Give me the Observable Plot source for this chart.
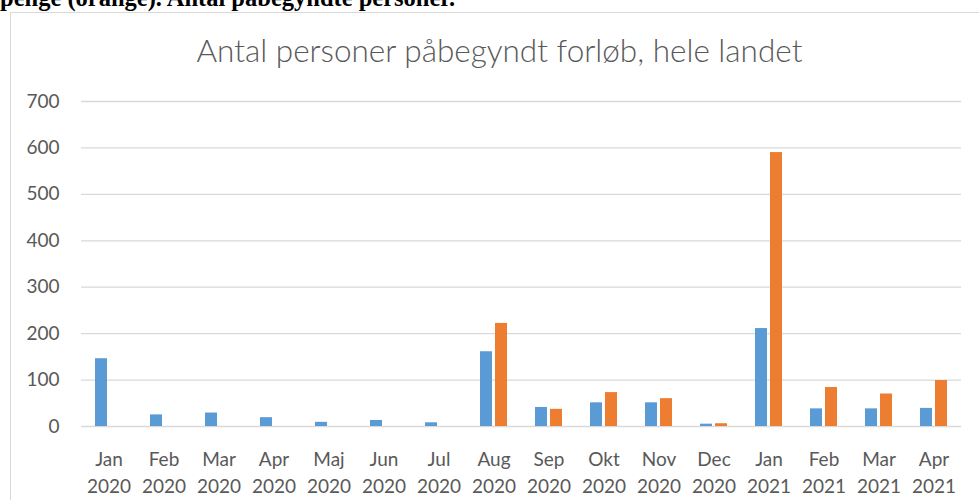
<!DOCTYPE html>
<html><head><meta charset="utf-8">
<script src="https://cdn.jsdelivr.net/npm/d3@7"></script>
<script src="https://cdn.jsdelivr.net/npm/@observablehq/plot@0.6"></script>
<style>
html,body{margin:0;padding:0;background:#fff;}
body{width:979px;height:500px;overflow:hidden;position:relative;}
#caption{position:absolute;left:0;top:-14.5px;font:bold 24.5px/24.5px "Liberation Serif",serif;white-space:nowrap;color:#000;}
#box{position:absolute;left:10px;top:12px;width:1000px;height:600px;border:1px solid #d9d9d9;box-sizing:border-box;}
#title{position:absolute;left:0;top:32px;width:999px;text-align:center;font:300 31.5px/36px Lato,sans-serif;color:#595959;white-space:nowrap;}
#chart{position:absolute;left:0;top:75px;}
</style>
</head><body>
<div id="caption">penge (orange). Antal påbegyndte personer.</div>
<div id="box"></div>
<div id="title">Antal personer påbegyndt forløb, hele landet</div>
<div id="chart"></div>
<script>
const months = ["Jan 2020","Feb 2020","Mar 2020","Apr 2020","Maj 2020","Jun 2020","Jul 2020","Aug 2020","Sep 2020","Okt 2020","Nov 2020","Dec 2020","Jan 2021","Feb 2021","Mar 2021","Apr 2021"];
const seriesNames = ["Blå", "Orange"];
const blueValues = [146, 25, 29, 19, 9, 13, 8, 161, 41, 51, 51, 5, 211, 38, 38, 39];
const orangeValues = [null, null, null, null, null, null, null, 222, 37, 73, 60, 6, 590, 84, 70, 99];
const yTicks = [0, 100, 200, 300, 400, 500, 600, 700];
const colors = ["#5B9BD5", "#ED7D31"];

const data = [];
months.forEach((m, i) => {
  if (blueValues[i] != null) data.push({month: m, series: seriesNames[0], value: blueValues[i]});
  if (orangeValues[i] != null) data.push({month: m, series: seriesNames[1], value: orangeValues[i]});
});

const chart = Plot.plot({
  width: 979,
  height: 425,
  marginLeft: 78,
  marginRight: 16,
  marginTop: 26,
  marginBottom: 74,
  style: {fontFamily: "Lato, sans-serif", color: "#595959", background: "transparent"},
  fx: {domain: months, paddingInner: 0, paddingOuter: 0, label: null, axis: null},
  x: {domain: seriesNames, paddingInner: 0.23, paddingOuter: 0.84, axis: null},
  y: {domain: [0, 700], ticks: yTicks, label: null},
  color: {domain: seriesNames, range: colors},
  marks: [
    Plot.ruleY(yTicks, {stroke: "#d9d9d9", strokeWidth: 1.3}),
    Plot.barY(data, {fx: "month", x: "series", y: "value", fill: "series"}),
    Plot.axisY({ticks: yTicks, tickSize: 0, tickPadding: 22, fontSize: 19, fill: "#595959", label: null}),
    Plot.axisFx({anchor: "bottom", tickSize: 0, tickPadding: 21, fontSize: 19, lineHeight: 1.4, fill: "#595959", label: null,
      tickFormat: d => d.replace(" ", "\n")})
  ]
});
document.getElementById("chart").appendChild(chart);
</script>
</body></html>
